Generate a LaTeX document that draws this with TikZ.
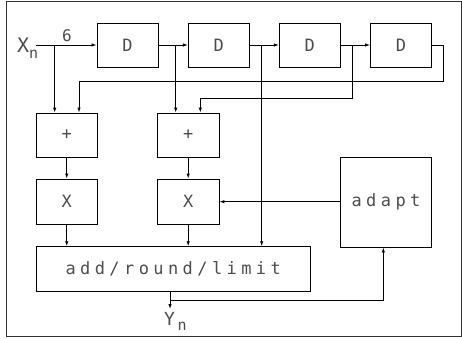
\documentclass[tikz,border=0pt]{standalone}
\usepackage{fontspec}
\newfontfamily\hf[LetterSpace=26]{DejaVu Sans Mono}
\usetikzlibrary{arrows.meta}
\begin{document}
\begin{tikzpicture}[x=1pt,y=-1pt,
  box/.style={draw=black, line width=0.9pt, minimum width=61pt, minimum height=44pt, inner sep=0pt, font=\hf\fontsize{17}{17}\selectfont, text=black!70},
  conn/.style={draw=black, line width=0.9pt},
  arr/.style={conn, -{Latex[length=5pt,width=3.5pt]}},
  lbl/.style={inner sep=0pt, font=\hf\fontsize{16}{16}\selectfont, text=black!70}]
\useasboundingbox (0,0) rectangle (462,338);
\draw[line width=1pt, draw=black!80] (6,1) rectangle (461,336);
% delay boxes
\node[box] (d1) at (127.5,45) {D};
\node[box] (d2) at (218.8,45) {D};
\node[box] (d3) at (309.8,45) {D};
\node[box] (d4) at (401,45) {D};
% adders
\node[box, minimum width=61.5pt] (p1) at (66.75,135) {+};
\node[box, minimum width=61.5pt] (p2) at (188.2,135) {+};
% multipliers
\node[box, minimum width=61.5pt, minimum height=45pt] (m1) at (66.75,201.5) {X};
\node[box, minimum width=61.5pt, minimum height=45pt] (m2) at (188.2,201.5) {X};
% add/round/limit
\node[box, minimum width=274.3pt, minimum height=45pt] (arl) at (173.2,269.2) {add/round/limit};
% adapt
\node[box, minimum width=91.4pt, minimum height=90pt] (ad) at (386,202) {adapt};
% labels
\node[lbl, font=\hf\fontsize{20}{20}\selectfont, anchor=base west] (xn) at (17,52) {X\raisebox{-6pt}{\fontsize{15}{15}\selectfont n}};
\node[lbl, font=\hf\fontsize{16}{16}\selectfont] (six) at (67,36) {6};
\node[lbl, font=\hf\fontsize{18}{18}\selectfont, anchor=base west] (yn) at (164,325) {Y\raisebox{-5pt}{\fontsize{15}{15}\selectfont\,n}};
% coordinates
\coordinate (xin) at (35.7,45);
\coordinate (b0) at (54.7,45);
\coordinate (b1) at (175.7,45);
\coordinate (b2) at (261.7,45);
\coordinate (b3) at (352.7,45);
\coordinate (b4) at (443.7,45);
\coordinate (yend) at (170,309);
\coordinate (fb) at (170,300);
% chain
\draw[arr] (xin) -- (d1.west);
\draw[arr] (d1.east) -- (d2.west);
\draw[arr] (d2.east) -- (d3.west);
\draw[arr] (d3.east) -- (d4.west);
% taps
\draw[arr] (b0) -- (b0 |- p1.north);
\draw[arr] (b1) -- (b1 |- p2.north);
\draw[arr] (b2) -- (b2 |- arl.north);
\draw[arr] (b3) -- (352.7,98.7) -- (200.3,98.7) -- (200.3,0 |- p2.north);
\draw[arr] (d4.east) -- (b4) -- (443.7,81) -- (79,81) -- (79,0 |- p1.north);
% adders to multipliers to output
\draw[arr] (p1.south) -- (m1.north);
\draw[arr] (p2.south) -- (m2.north);
\draw[arr] (m1.south) -- (m1.south |- arl.north);
\draw[arr] (m2.south) -- (m2.south |- arl.north);
\draw[arr] (ad.west |- 0,201.7) -- (m2.east |- 0,201.7);
% output
\draw[arr] (arl.south -| yend) -- (yend);
\draw[arr] (fb) -- (383.3,300) -- (383.3,0 |- ad.south);
\end{tikzpicture}
\end{document}
